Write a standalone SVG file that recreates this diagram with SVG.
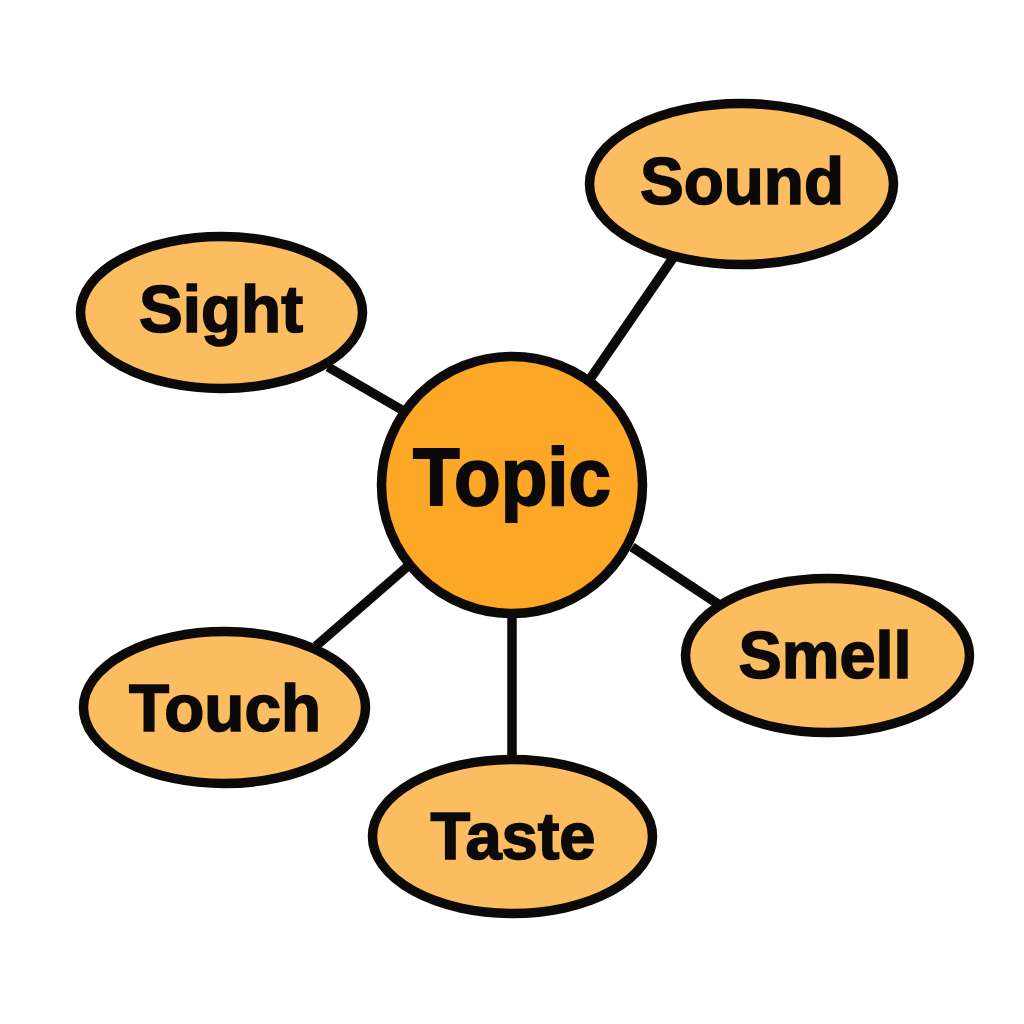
<svg xmlns="http://www.w3.org/2000/svg" width="1024" height="1024" viewBox="0 0 1024 1024">
<style>
.c{stroke:#0c0a08;stroke-width:9.5;fill:none;stroke-linecap:butt}
.n{fill:#fbbd60;stroke:#0c0a08;stroke-width:9.5}
.h{fill:#fda727;stroke:#0c0a08;stroke-width:9.5}
text{font-family:"Liberation Sans",Arial,sans-serif;font-weight:700;fill:#0c0a08;stroke:#0c0a08;text-anchor:middle}
.t{font-size:66px;stroke-width:1.6}
.m{font-size:82px;stroke-width:2}
</style>
<rect width="1024" height="1024" fill="#ffffff"/>
<g id="connectors">
<path class="c" d="M328 367L402 410"/>
<path class="c" d="M673 258L590 379"/>
<path class="c" d="M632 547L718 604"/>
<path class="c" d="M512 614V758"/>
<path class="c" d="M408 566L316 646"/>
</g>
<g id="topic"><ellipse class="h" cx="512" cy="485" rx="130.5" ry="128.5"/><text class="m" x="512" y="505" textLength="198" lengthAdjust="spacingAndGlyphs">Topic</text></g>
<g id="sound"><ellipse class="n" cx="741.5" cy="184" rx="152" ry="80.5"/><text class="t" x="742" y="204" textLength="204" lengthAdjust="spacingAndGlyphs">Sound</text></g>
<g id="sight"><ellipse class="n" cx="221.5" cy="312.5" rx="141" ry="76"/><text class="t" x="221" y="332" textLength="164" lengthAdjust="spacingAndGlyphs">Sight</text></g>
<g id="smell"><ellipse class="n" cx="827.5" cy="655.5" rx="142" ry="77"/><text class="t" x="825" y="678" textLength="173" lengthAdjust="spacingAndGlyphs">Smell</text></g>
<g id="touch"><ellipse class="n" cx="224.5" cy="707.5" rx="141" ry="76"/><text class="t" x="225" y="731" textLength="192" lengthAdjust="spacingAndGlyphs">Touch</text></g>
<g id="taste"><ellipse class="n" cx="512.5" cy="836.5" rx="140" ry="77"/><text class="t" x="513" y="859" textLength="165" lengthAdjust="spacingAndGlyphs">Taste</text></g>
</svg>
